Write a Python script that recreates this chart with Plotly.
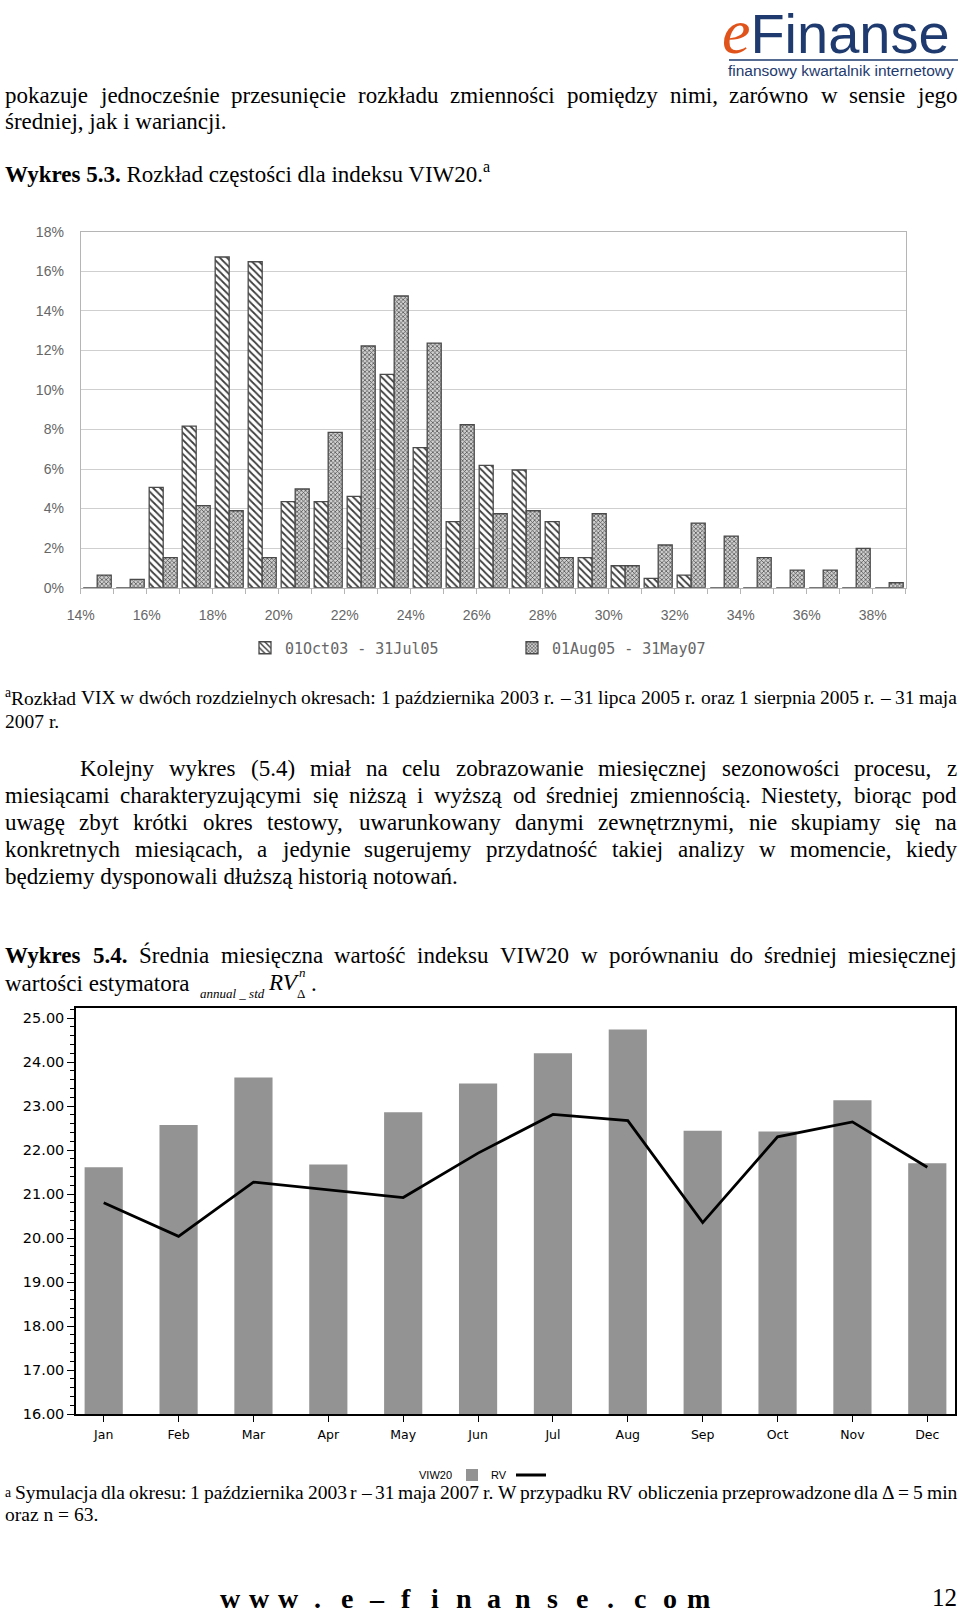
import re
import plotly.graph_objects as go

W, H = 960, 1617
SERIF = "Liberation Serif"
SANS = "Liberation Sans"

# ---------------- Chart 1 data (Wykres 5.3) ----------------
bin_lower = list(range(14, 39))                      # 1%-wide bins 14%..38%
period1_name = "01Oct03 - 31Jul05"
period2_name = "01Aug05 - 31May07"
period1 = [0, 0, 5.07, 8.17, 16.72, 16.48, 4.35, 4.35, 4.62, 10.79, 7.08, 3.34,
           6.19, 5.95, 3.34, 1.52, 1.11, 0.47, 0.64, 0, 0, 0, 0, 0, 0]
period2 = [0.64, 0.42, 1.52, 4.15, 3.89, 1.52, 4.99, 7.85, 12.22, 14.75, 12.37, 8.24,
           3.74, 3.89, 1.52, 3.74, 1.11, 2.16, 3.27, 2.61, 1.52, 0.89, 0.89, 1.99, 0.25]
x1_tick_values = [14, 16, 18, 20, 22, 24, 26, 28, 30, 32, 34, 36, 38]
x1_tick_labels = ["14%", "16%", "18%", "20%", "22%", "24%", "26%", "28%", "30%",
                  "32%", "34%", "36%", "38%"]
y1_tick_values = [0, 2, 4, 6, 8, 10, 12, 14, 16, 18]
y1_tick_labels = ["0%", "2%", "4%", "6%", "8%", "10%", "12%", "14%", "16%", "18%"]

# ---------------- Chart 2 data (Wykres 5.4) ----------------
months = ["Jan", "Feb", "Mar", "Apr", "May", "Jun", "Jul", "Aug", "Sep", "Oct", "Nov", "Dec"]
viw20 = [21.61, 22.57, 23.65, 21.67, 22.86, 23.51, 24.20, 24.74, 22.44, 22.42, 23.13, 21.70]
rv = [20.80, 20.04, 21.27, 21.10, 20.92, 21.93, 22.81, 22.67, 20.35, 22.30, 22.64, 21.61]
y2_tick_values = [16, 17, 18, 19, 20, 21, 22, 23, 24, 25]

fig = go.Figure()

bin_centers = [b + 0.5 for b in bin_lower]
fig.add_trace(go.Bar(
    x=bin_centers, y=period1, name=period1_name, xaxis="x", yaxis="y",
    marker=dict(color="white", line=dict(color="#4a4a4a", width=1.3),
                pattern=dict(shape="\\", fgcolor="#3c3c3c", bgcolor="white",
                             size=5, solidity=0.35)),
    legend="legend"))
fig.add_trace(go.Bar(
    x=bin_centers, y=period2, name=period2_name, xaxis="x", yaxis="y",
    marker=dict(color="#c4c4c4", line=dict(color="#4a4a4a", width=1.3),
                pattern=dict(shape="x", fgcolor="#444444", bgcolor="#d0d0d0",
                             size=3, solidity=0.4)),
    legend="legend"))

fig.add_trace(go.Bar(
    x=months, y=viw20, name=" ", xaxis="x2", yaxis="y2", width=0.51,
    marker=dict(color="#939393", line=dict(width=0)), legend="legend2"))
fig.add_trace(go.Scatter(
    x=months, y=rv, name=" ", xaxis="x2", yaxis="y2", mode="lines",
    line=dict(color="black", width=2.8), legend="legend2"))


def px_x(p):
    return p / W


def px_y(p):
    return 1 - p / H


fig.update_layout(
    template="none",
    width=W, height=H, autosize=False,
    margin=dict(l=0, r=0, t=0, b=0, pad=0, autoexpand=False),
    paper_bgcolor="white", plot_bgcolor="white",
    barmode="group", bargap=0.15, bargroupgap=0.0,
    showlegend=True,
    xaxis=dict(domain=[px_x(80.7), px_x(905.7)], range=[14, 39], anchor="y",
               automargin=False,
               tickmode="array", tickvals=x1_tick_values, ticktext=x1_tick_labels,
               ticks="outside", ticklen=5, tickcolor="#b5b5b5",
               minor=dict(dtick=1, tick0=0, ticks="outside", ticklen=5,
                          tickcolor="#b5b5b5", showgrid=False),
               showline=True, linecolor="#b5b5b5", linewidth=1, mirror=True,
               showgrid=False, zeroline=False, ticklabelstandoff=9,
               tickfont=dict(family=SANS, size=14, color="#666666")),
    yaxis=dict(domain=[px_y(587.7), px_y(231.7)], range=[0, 18], anchor="x",
               automargin=False,
               tickmode="array", tickvals=y1_tick_values, ticktext=y1_tick_labels,
               ticks="", showline=True, linecolor="#b5b5b5", linewidth=1, mirror=True,
               showgrid=True, gridcolor="#cfcfcf", gridwidth=1, zeroline=False,
               ticklabelstandoff=13,
               tickfont=dict(family=SANS, size=14, color="#666666")),
    xaxis2=dict(domain=[px_x(76), px_x(955)], range=[-0.37, 11.37], anchor="y2",
                automargin=False,
                type="category", ticks="outside", ticklen=6, tickcolor="black",
                tickwidth=1.3, showline=True, linecolor="black", linewidth=1.5,
                mirror=True, showgrid=False, zeroline=False, ticklabelstandoff=2,
                tickfont=dict(family="DejaVu Sans", size=12.5, color="black")),
    yaxis2=dict(domain=[px_y(1414), px_y(1007.5)], range=[16, 25.24], anchor="x2",
                automargin=False,
                tickmode="array", tickvals=y2_tick_values, tickformat=".2f",
                ticksuffix="%", ticks="outside", ticklen=7, tickcolor="black",
                tickwidth=1.3, minor=dict(dtick=0.2, ticks="outside", ticklen=4,
                                          tickcolor="black"),
                showline=True, linecolor="black", linewidth=1.5, mirror=True,
                showgrid=False, zeroline=False,
                tickfont=dict(family="DejaVu Sans", size=14.5, color="black")),
    legend=dict(orientation="h", x=px_x(245), y=px_y(648), xanchor="left",
                yanchor="middle", bgcolor="rgba(0,0,0,0)", entrywidth=222,
                traceorder="normal",
                font=dict(family="DejaVu Sans Mono", size=15, color="#666666")),
    legend2=dict(orientation="h", x=px_x(452), y=px_y(1475), xanchor="left",
                 yanchor="middle", bgcolor="rgba(0,0,0,0)", entrywidth=14,
                 traceorder="normal",
                 font=dict(family=SANS, size=11, color="black")),
)

# ---------------- text helpers ----------------
_R = {' ': 250, '!': 333, '(': 333, ')': 333, ',': 250, '-': 333, '.': 250, ':': 278,
      ';': 278, '=': 564, '%': 833, '_': 500,
      'A': 722, 'B': 667, 'C': 667, 'D': 722, 'E': 611, 'F': 556, 'G': 722, 'H': 722,
      'I': 333, 'J': 389, 'K': 722, 'L': 611, 'M': 889, 'N': 722, 'O': 722, 'P': 556,
      'Q': 722, 'R': 667, 'S': 556, 'T': 611, 'U': 722, 'V': 722, 'W': 944, 'X': 722,
      'Y': 722, 'Z': 611,
      'a': 444, 'b': 500, 'c': 444, 'd': 500, 'e': 444, 'f': 333, 'g': 500, 'h': 500,
      'i': 278, 'j': 278, 'k': 500, 'l': 278, 'm': 778, 'n': 500, 'o': 500, 'p': 500,
      'q': 500, 'r': 333, 's': 389, 't': 278, 'u': 500, 'v': 500, 'w': 722, 'x': 500,
      'y': 500, 'z': 444,
      'ą': 444, 'ć': 444, 'ę': 444, 'ł': 278, 'ń': 500, 'ó': 500, 'ś': 389, 'ź': 444,
      'ż': 444, 'Ś': 556, '–': 500, 'Δ': 612}
_B = {'W': 1000, 'y': 500, 'k': 556, 'r': 444, 'e': 444, 's': 389, ' ': 250, '.': 250}


def text_width(s, size):
    bold = sup = False
    total = 0.0
    for part in re.split(r'(<[^>]+>)', s):
        if part.startswith('<'):
            tag = part.strip('<>/')
            on = not part.startswith('</')
            if tag == 'b':
                bold = on
            elif tag == 'sup':
                sup = on
            continue
        for ch in part:
            if ch.isdigit():
                w = 500
            elif bold:
                w = _B.get(ch, _R.get(ch, 500))
            else:
                w = _R.get(ch, 500)
            total += w * (0.7 if sup else 1.0)
    return total * size / 1000.0


def add_text(txt, x, y, size, anchor="left", family=SERIF, color="black", pad=0):
    fig.add_annotation(text=txt, x=px_x(x), y=px_y(y), xref="paper", yref="paper",
                       xanchor=anchor, yanchor="middle", showarrow=False,
                       borderpad=pad, borderwidth=0,
                       font=dict(family=family, size=size, color=color))


def justify(line, x0, x1, y, size):
    tokens = line.split(" ")
    widths = [text_width(t, size) for t in tokens]
    gap = (x1 - x0 - sum(widths)) / (len(tokens) - 1)
    x = x0
    for t, w in zip(tokens, widths):
        add_text(t, x, y, size)
        x += w + gap


BODY = 23
NOTE = 19.5
XL, XR = 5, 957

# logo (single text: italic orange "e" + navy "Finanse")
add_text('<span style="font-family:Liberation Serif;font-style:italic;'
         'color:#e0541c;font-size:64px">e</span>Finanse',
         722, 31, 56, family=SANS, color="#1e3a6e")
fig.add_shape(type="line", xref="paper", yref="paper", x0=px_x(729), x1=px_x(958),
              y0=px_y(60), y1=px_y(60), line=dict(color="#1e3a6e", width=1.5))
add_text("finansowy kwartalnik internetowy", 728, 71, 15.5, family=SANS, color="#1e3a6e")

# text above chart 1
justify("pokazuje jednocześnie przesunięcie rozkładu zmienności pomiędzy nimi, zarówno w sensie jego",
        XL, XR, 95, BODY)
add_text("średniej, jak i wariancji.", XL, 122, BODY)
add_text("<b>Wykres 5.3.</b> Rozkład częstości dla indeksu VIW20.<sup>a</sup>", XL, 173, BODY)

# footnote chart 1
justify("<sup>a</sup>Rozkład VIX w dwóch rozdzielnych okresach: 1 października 2003 r. – 31 lipca 2005 r. oraz 1 sierpnia 2005 r. – 31 maja",
        XL, XR, 697, NOTE)
add_text("2007 r.", XL, 721, NOTE)

# paragraph
justify("Kolejny wykres (5.4) miał na celu zobrazowanie miesięcznej sezonowości procesu, z",
        80, XR, 769, BODY)
justify("miesiącami charakteryzującymi się niższą i wyższą od średniej zmiennością. Niestety, biorąc pod",
        XL, XR, 795, BODY)
justify("uwagę zbyt krótki okres testowy, uwarunkowany danymi zewnętrznymi, nie skupiamy się na",
        XL, XR, 822, BODY)
justify("konkretnych miesiącach, a jedynie sugerujemy przydatność takiej analizy w momencie, kiedy",
        XL, XR, 849, BODY)
add_text("będziemy dysponowali dłuższą historią notowań.", XL, 876, BODY)

# heading chart 2
justify("<b>Wykres</b> <b>5.4.</b> Średnia miesięczna wartość indeksu VIW20 w porównaniu do średniej miesięcznej",
        XL, XR, 955, BODY)
add_text("wartości estymatora", XL, 984, BODY)
add_text("<i>annual _ std</i>", 200, 994, 13)
add_text("<i>RV</i>", 268, 982, BODY)
add_text("<i>n</i>", 299, 972, 13)
add_text("Δ", 297, 994, 13)
add_text(".", 311, 984, BODY)

# legend 2 labels
add_text("VIW20", 452, 1475, 11, anchor="right", family=SANS)
add_text("RV", 491, 1475, 11, anchor="left", family=SANS)

# footnote chart 2
justify("<sup>a</sup> Symulacja dla okresu: 1 października 2003 r – 31 maja 2007 r. W przypadku RV obliczenia przeprowadzone dla Δ = 5 min",
        XL, XR, 1492, NOTE)
add_text("oraz n = 63.", XL, 1514, NOTE)

# footer
footer_chars = ["w", "w", "w", ".", "e", "–", "f", "i", "n", "a", "n", "s", "e", ".", "c", "o", "m"]
for i, ch in enumerate(footer_chars):
    add_text("<b>" + ch + "</b>", 230 + i * 29.3, 1598, 28, anchor="center")
add_text("12", 957, 1597, 25, anchor="right")

fig.write_html("out.html", config={"displayModeBar": False},
               post_script="document.body.style.margin='0';"
                           "document.body.style.padding='0';"
                           "document.body.style.overflow='hidden';"
                           "document.documentElement.style.overflow='hidden';")
